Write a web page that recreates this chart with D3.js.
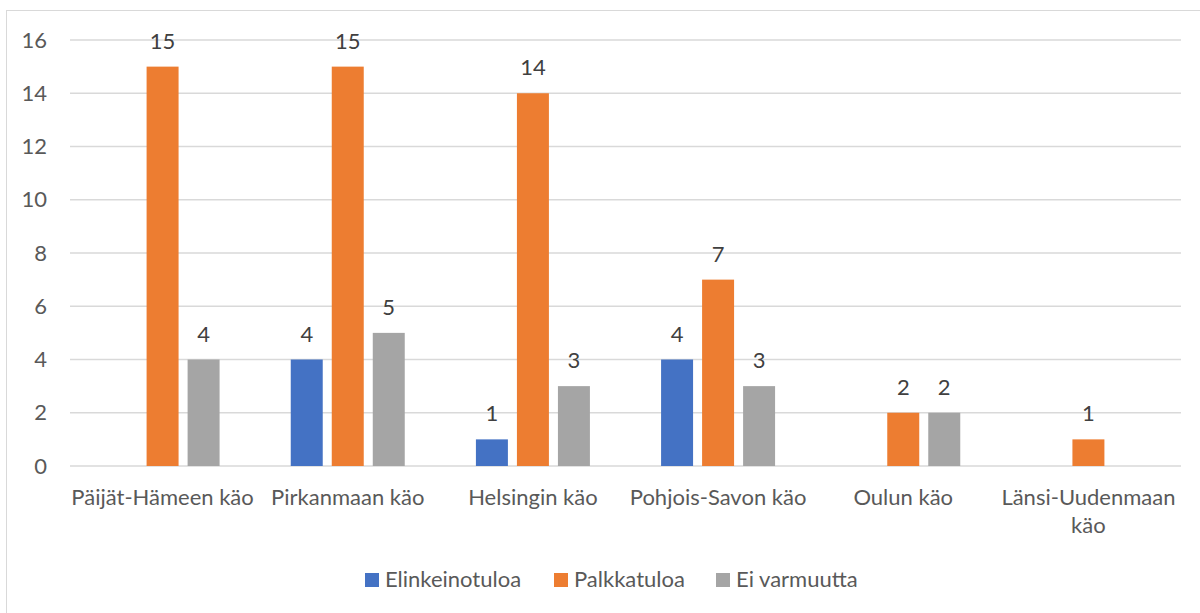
<!DOCTYPE html>
<meta charset='utf-8'>
<head>
    <title>Bar chart</title>
    <script src='https://cdn.jsdelivr.net/npm/d3@7/dist/d3.min.js'></script>
</head>

<style>
    body { margin: 0; background: white; }
    text { font-family: Lato, 'Open Sans', sans-serif; }
    .tick text { fill: #595959; font-size: 22px; }
    .grid line { stroke: #D9D9D9; stroke-width: 1.3px; }
    .label { fill: #404040; font-size: 22px; }
</style>

<svg></svg>

<script>
    var vWidth = 1200;
    var vHeight = 613;

    var categories = ['Päijät-Hämeen käo', 'Pirkanmaan käo', 'Helsingin käo', 'Pohjois-Savon käo', 'Oulun käo', 'Länsi-Uudenmaan käo'];
    var seriesNames = ['Elinkeinotuloa', 'Palkkatuloa', 'Ei varmuutta'];
    var seriesColors = ['#4472C4', '#ED7D31', '#A5A5A5'];
    var elinkeinotuloa = [null, 4, 1, 4, null, null];
    var palkkatuloa = [15, 15, 14, 7, 2, 1];
    var eiVarmuutta = [4, 5, 3, 3, 2, null];
    var yTicks = [0, 2, 4, 6, 8, 10, 12, 14, 16];

    var seriesValues = [elinkeinotuloa, palkkatuloa, eiVarmuutta];

    var svg = d3.select('svg').attr('width', vWidth).attr('height', vHeight);

    // chart border (runs off the right and bottom edge)
    svg.append('rect')
        .attr('x', 6.5).attr('y', 10.5)
        .attr('width', 1210).attr('height', 620)
        .attr('fill', 'white').attr('stroke', '#D9D9D9');

    var x0 = d3.scaleBand().domain(categories).range([70, 1181]);
    var x1 = d3.scaleBand().domain(seriesNames).range([-57, 57]).paddingInner(0.22);
    var y = d3.scaleLinear().domain([0, 16]).range([466, 40]);

    // gridlines
    svg.append('g').attr('class', 'grid')
        .selectAll('line').data(yTicks).enter().append('line')
        .attr('x1', 70).attr('x2', 1181)
        .attr('y1', function (d) { return y(d); })
        .attr('y2', function (d) { return y(d); });

    // y axis
    var yAxis = svg.append('g')
        .attr('transform', 'translate(70,0)')
        .call(d3.axisLeft(y).tickValues(yTicks).tickSize(0).tickPadding(23));
    yAxis.select('.domain').remove();

    // bars
    var groups = svg.selectAll('g.cat').data(categories).enter().append('g')
        .attr('class', 'cat')
        .attr('transform', function (d) { return 'translate(' + (x0(d) + x0.bandwidth() / 2) + ',0)'; });

    groups.each(function (c, ci) {
        var g = d3.select(this);
        var vals = seriesNames.map(function (s, si) {
            return { s: s, si: si, v: seriesValues[si][ci] };
        }).filter(function (d) { return d.v !== null; });

        g.selectAll('rect').data(vals).enter().append('rect')
            .attr('x', function (d) { return x1(d.s); })
            .attr('width', x1.bandwidth())
            .attr('y', function (d) { return y(d.v); })
            .attr('height', function (d) { return y(0) - y(d.v); })
            .attr('fill', function (d) { return seriesColors[d.si]; });

        g.selectAll('text.label').data(vals).enter().append('text')
            .attr('class', 'label')
            .attr('text-anchor', 'middle')
            .attr('x', function (d) { return x1(d.s) + x1.bandwidth() / 2; })
            .attr('y', function (d) { return y(d.v) - 18; })
            .text(function (d) { return d.v; });
    });

    // category labels, wrap long ones
    var xLabels = svg.append('g').selectAll('text').data(categories).enter().append('text')
        .attr('text-anchor', 'middle')
        .attr('fill', '#595959')
        .style('font-size', '22px')
        .attr('x', function (d) { return x0(d) + x0.bandwidth() / 2; })
        .attr('y', 505);

    xLabels.each(function (d) {
        var t = d3.select(this);
        if (d === 'Länsi-Uudenmaan käo') {
            t.append('tspan').attr('x', t.attr('x')).text('Länsi-Uudenmaan');
            t.append('tspan').attr('x', t.attr('x')).attr('dy', 28).text('käo');
        } else {
            t.text(d);
        }
    });

    // legend
    var legendX = [365, 554, 716];
    var legend = svg.append('g').selectAll('g').data(seriesNames).enter().append('g')
        .attr('transform', function (d, i) { return 'translate(' + legendX[i] + ',573)'; });
    legend.append('rect').attr('width', 14).attr('height', 14)
        .attr('fill', function (d, i) { return seriesColors[i]; });
    legend.append('text').attr('x', 20).attr('y', 14)
        .attr('fill', '#595959').style('font-size', '22px')
        .text(function (d) { return d; });
</script>
